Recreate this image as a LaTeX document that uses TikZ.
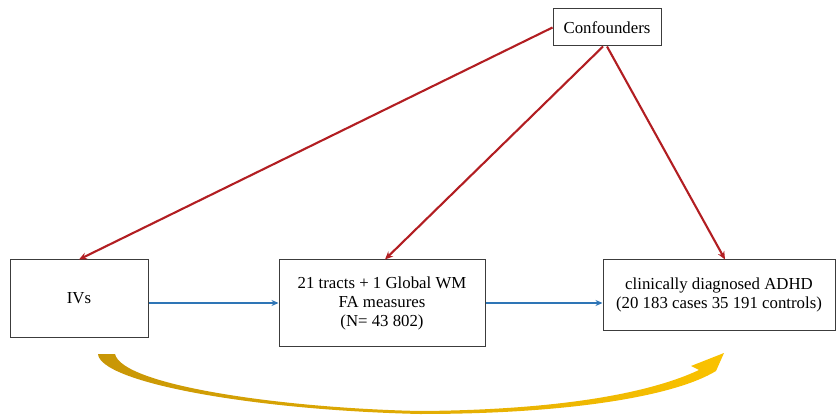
\documentclass[tikz,border=0pt]{standalone}
\usepackage{fontspec}
\setmainfont{Liberation Serif}
\usetikzlibrary{arrows.meta}
\definecolor{boxline}{RGB}{60,60,60}
\definecolor{redarrow}{RGB}{178,30,34}
\definecolor{bluearrow}{RGB}{46,117,182}
\definecolor{golddark}{RGB}{200,150,6}
\definecolor{goldlight}{RGB}{250,194,0}
\tikzset{
  box/.style={draw=boxline, line width=1pt, align=center, font=\fontsize{16.8}{19}\selectfont, inner sep=0pt},
  redarr/.style={draw=redarrow, line width=2.1pt, -{Stealth[length=8pt,width=7pt]}},
  bluearr/.style={draw=bluearrow, line width=2pt, -{Stealth[length=7pt,width=6pt]}}
}
\begin{document}
\begin{tikzpicture}[x=1pt,y=-1pt]
\useasboundingbox (0,0) rectangle (837,419);
\node[box, minimum width=108pt, minimum height=37pt] (conf) at (607,27.5) {Confounders};
\node[box, minimum width=138pt, minimum height=77pt] (ivs) at (79,298.5) {IVs};
\node[box, minimum width=206pt, minimum height=86pt] (mid) at (382,303) {21 tracts + 1 Global WM\\FA measures\\(N= 43 802)};
\node[box, minimum width=232pt, minimum height=70pt] (adhd) at (719,295) {clinically diagnosed ADHD\\(20 183 cases 35 191 controls)};
\draw[redarr] (conf.west) -- (ivs.north);
\draw[redarr] ([xshift=-4pt]conf.south) -- ([xshift=3pt]mid.north);
\draw[redarr] (conf.south) -- ([xshift=6pt]adhd.north);
\draw[bluearr] (ivs.east |- mid.west) -- (mid.west);
\draw[bluearr] (mid.east) -- (mid.east -| adhd.west);
\shade[left color=golddark, right color=goldlight]
  (98,354) .. controls (100,382) and (250,410) .. (420,414)
  .. controls (570,414) and (675,396) .. (716,371)
  -- (724,353) -- (691,366) -- (699,370)
  .. controls (650,393) and (560,410) .. (420,411)
  .. controls (280,408) and (122,385) .. (115,354) -- cycle;
\end{tikzpicture}
\end{document}
